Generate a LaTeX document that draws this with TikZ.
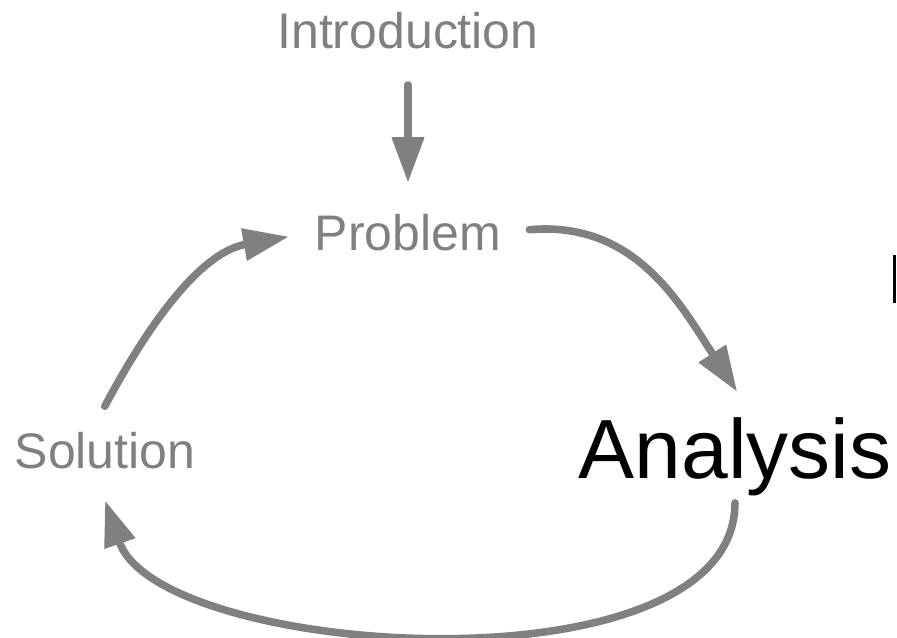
\documentclass[tikz,border=0pt]{standalone}
\usepackage{fontspec}
\setmainfont{Liberation Sans}
\usetikzlibrary{arrows.meta}

\begin{document}
\begin{tikzpicture}[x=0.02cm,y=0.02cm,
    every node/.style={inner sep=0pt,anchor=base,text=gray,font=\fontsize{28.45}{34}\selectfont},
    flow/.style={draw=gray,line width=4.3pt,line cap=round,-{Triangle[length=26pt,width=17.6pt]}}]
    \useasboundingbox (0,0) rectangle (897,637);
    \coordinate (I) at (408, 588);
    \coordinate (P) at (408, 387);
    \coordinate (S) at (105, 169);
    \coordinate (A) at (735, 159);
    \node (intro) at (I) {Introduction};
    \node (prob) at (P) {Problem};
    \node (sol) at (S) {Solution};
    \node[text=black,font=\fontsize{47.8}{56}\selectfont] (ana) at (A) {Analysis};
    \draw[flow,shorten <=20pt,shorten >=17.4pt] (intro.south) -- (prob.north);
    \draw[flow,shorten <=16pt,shorten >=17pt] (prob.east) to[out=5,in=123,looseness=1.1] (ana.65);
    \draw[flow,shorten <=4pt,shorten >=19pt] (ana.south) to[out=-90,in=-71,looseness=0.8] (sol.240);
    \draw[flow,shorten <=16.2pt,shorten >=14.8pt] (sol.126) to[out=62,in=190] (prob.west);
    \fill (893,334) rectangle (896,382);
\end{tikzpicture}
\end{document}
